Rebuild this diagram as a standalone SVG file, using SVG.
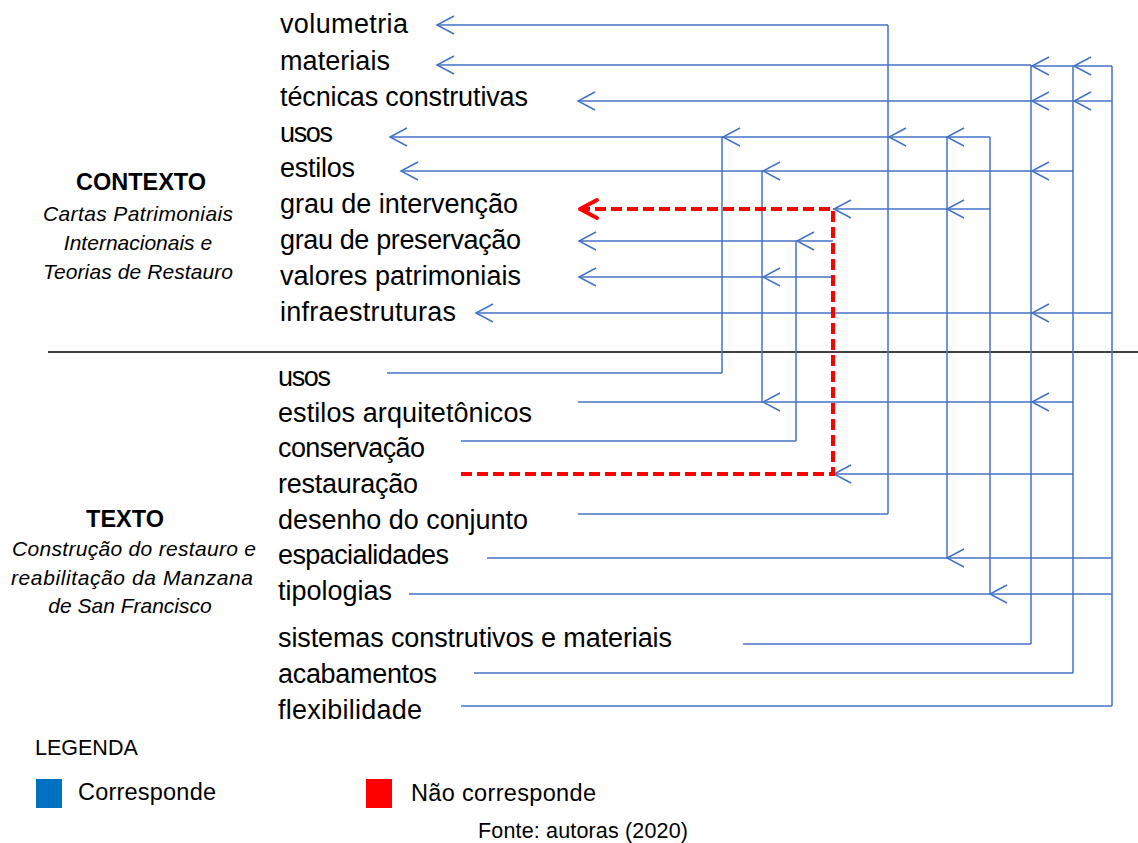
<svg xmlns="http://www.w3.org/2000/svg" xmlns:xlink="http://www.w3.org/1999/xlink" width="1138" height="843" viewBox="0 0 1138 843">
<style>
.t{font-family:"Liberation Sans",Arial,sans-serif;font-size:27px;fill:#000}
.h{font-family:"Liberation Sans",Arial,sans-serif;font-size:23.5px;font-weight:bold;fill:#000;text-anchor:middle}
.i{font-family:"Liberation Sans",Arial,sans-serif;font-size:21px;font-style:italic;fill:#000;text-anchor:middle}
.lg{font-family:"Liberation Sans",Arial,sans-serif;fill:#000}
.b{stroke:#4472C4;stroke-width:1.5;fill:none}
.r{stroke:#FF0000;stroke-width:4;fill:none;stroke-dasharray:11 5}
.rc{stroke:#FF0000;stroke-width:4;fill:none;stroke-linecap:round;stroke-linejoin:round}
</style>
<defs>
<path id="chev" d="M17,-9 L0,0 L17,9"/>
</defs>
<rect x="0" y="0" width="1138" height="843" fill="#fff"/>

<g id="label-contexto">
<text class="h" x="141" y="190">CONTEXTO</text>
<text class="i" x="138" y="221" textLength="190">Cartas Patrimoniais</text>
<text class="i" x="138" y="250">Internacionais e</text>
<text class="i" x="138" y="279" textLength="190">Teorias de Restauro</text>
</g>
<g id="label-texto">
<text class="h" x="125" y="527">TEXTO</text>
<text class="i" x="134" y="556" textLength="244">Construção do restauro e</text>
<text class="i" x="132" y="585" textLength="242">reabilitação da Manzana</text>
<text class="i" x="130" y="613">de San Francisco</text>
</g>

<g id="separator"><line x1="48" y1="352" x2="1138" y2="352" stroke="#000" stroke-width="1.3"/></g>

<g id="ctx-volumetria"><text class="t" x="280" y="33" textLength="128">volumetria</text></g>
<g id="ctx-materiais"><text class="t" x="280" y="70" textLength="110">materiais</text></g>
<g id="ctx-tecnicas"><text class="t" x="280" y="106" textLength="248">técnicas construtivas</text></g>
<g id="ctx-usos"><text class="t" x="280" y="142" textLength="53">usos</text></g>
<g id="ctx-estilos"><text class="t" x="280" y="177" textLength="75">estilos</text></g>
<g id="ctx-intervencao"><text class="t" x="280" y="213" textLength="238">grau de intervenção</text></g>
<g id="ctx-preservacao"><text class="t" x="280" y="249" textLength="241">grau de preservação</text></g>
<g id="ctx-valores"><text class="t" x="280" y="285" textLength="241">valores patrimoniais</text></g>
<g id="ctx-infra"><text class="t" x="280" y="321" textLength="176">infraestruturas</text></g>

<g id="txt-usos"><text class="t" x="278" y="386" textLength="53">usos</text></g>
<g id="txt-estilos"><text class="t" x="278" y="422" textLength="254">estilos arquitetônicos</text></g>
<g id="txt-conservacao"><text class="t" x="278" y="457" textLength="147">conservação</text></g>
<g id="txt-restauracao"><text class="t" x="278" y="493" textLength="140">restauração</text></g>
<g id="txt-desenho"><text class="t" x="278" y="529" textLength="250">desenho do conjunto</text></g>
<g id="txt-espacialidades"><text class="t" x="278" y="564" textLength="171">espacialidades</text></g>
<g id="txt-tipologias"><text class="t" x="278" y="600" textLength="114">tipologias</text></g>
<g id="txt-sistemas"><text class="t" x="278" y="647" textLength="394">sistemas construtivos e materiais</text></g>
<g id="txt-acabamentos"><text class="t" x="278" y="683" textLength="159">acabamentos</text></g>
<g id="txt-flexibilidade"><text class="t" x="278" y="719" textLength="144">flexibilidade</text></g>

<g id="connectors">
<g class="b">
<line x1="722" y1="137" x2="722" y2="373"/>
<line x1="762" y1="171" x2="762" y2="402"/>
<line x1="796" y1="241" x2="796" y2="441"/>
<line x1="888" y1="25" x2="888" y2="514"/>
<line x1="947" y1="137" x2="947" y2="558"/>
<line x1="990" y1="137" x2="990" y2="594"/>
<line x1="1031" y1="65" x2="1031" y2="644"/>
<line x1="1073" y1="66" x2="1073" y2="673"/>
<line x1="1112" y1="66" x2="1112" y2="706"/>
<line x1="437" y1="25" x2="888" y2="25"/>
<line x1="437" y1="65" x2="1031" y2="65"/>
<line x1="1031" y1="66" x2="1112" y2="66"/>
<line x1="578" y1="101" x2="1112" y2="101"/>
<line x1="390" y1="137" x2="990" y2="137"/>
<line x1="401" y1="171" x2="1073" y2="171"/>
<line x1="833" y1="209" x2="990" y2="209"/>
<line x1="579" y1="241" x2="833" y2="241"/>
<line x1="579" y1="277" x2="833" y2="277"/>
<line x1="476" y1="313" x2="1112" y2="313"/>
<line x1="387" y1="373" x2="722" y2="373"/>
<line x1="578" y1="402" x2="1073" y2="402"/>
<line x1="461" y1="441" x2="796" y2="441"/>
<line x1="833" y1="474" x2="1073" y2="474"/>
<line x1="578" y1="514" x2="888" y2="514"/>
<line x1="487" y1="558" x2="1112" y2="558"/>
<line x1="409" y1="594" x2="1112" y2="594"/>
<line x1="743" y1="644" x2="1031" y2="644"/>
<line x1="474" y1="673" x2="1073" y2="673"/>
<line x1="461" y1="706" x2="1112" y2="706"/>
<use xlink:href="#chev" x="437" y="25"/>
<use xlink:href="#chev" x="437" y="65"/>
<use xlink:href="#chev" x="1032" y="66"/>
<use xlink:href="#chev" x="1074" y="66"/>
<use xlink:href="#chev" x="578" y="101"/>
<use xlink:href="#chev" x="1032" y="101"/>
<use xlink:href="#chev" x="1074" y="101"/>
<use xlink:href="#chev" x="390" y="137"/>
<use xlink:href="#chev" x="723" y="137"/>
<use xlink:href="#chev" x="889" y="137"/>
<use xlink:href="#chev" x="947" y="137"/>
<use xlink:href="#chev" x="401" y="171"/>
<use xlink:href="#chev" x="763" y="171"/>
<use xlink:href="#chev" x="1032" y="171"/>
<use xlink:href="#chev" x="834" y="209"/>
<use xlink:href="#chev" x="947" y="209"/>
<use xlink:href="#chev" x="579" y="241"/>
<use xlink:href="#chev" x="797" y="241"/>
<use xlink:href="#chev" x="579" y="277"/>
<use xlink:href="#chev" x="763" y="277"/>
<use xlink:href="#chev" x="476" y="313"/>
<use xlink:href="#chev" x="1032" y="313"/>
<use xlink:href="#chev" x="763" y="402"/>
<use xlink:href="#chev" x="1032" y="402"/>
<use xlink:href="#chev" x="834" y="474"/>
<use xlink:href="#chev" x="947" y="558"/>
<use xlink:href="#chev" x="990" y="594"/>
</g>
<path class="r" d="M461,474 H833 V209 H583"/>
<path class="rc" d="M597,200 L580,209 L597,218"/>
</g>

<g id="legend">
<text class="lg" x="35" y="755" font-size="21.5">LEGENDA</text>
<rect x="36" y="779" width="26" height="29" fill="#0070C0"/>
<text class="lg" x="78" y="800" font-size="23.5" textLength="138">Corresponde</text>
<rect x="366" y="779" width="26" height="29" fill="#FF0000"/>
<text class="lg" x="411" y="801" font-size="23.5" textLength="185">Não corresponde</text>
<text class="lg" x="478" y="838" font-size="21.5" textLength="210">Fonte: autoras (2020)</text>
</g>
</svg>
